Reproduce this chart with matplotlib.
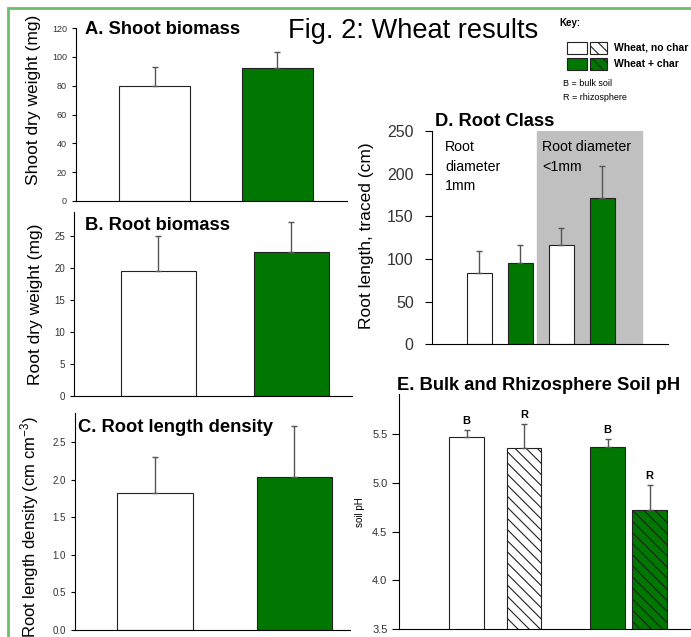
import matplotlib
matplotlib.use("Agg")
import matplotlib.pyplot as plt
from matplotlib.patches import Rectangle

plt.rcParams['font.family'] = ['Liberation Sans', 'DejaVu Sans']
plt.rcParams['mathtext.default'] = 'regular'
plt.rcParams['hatch.linewidth'] = 0.8

W, H = 691, 637
GREEN = '#007700'

# --- data ---
groups = ["Wheat, no char", "Wheat + char"]
shoot = [80, 92]
shoot_err = [13, 11.5]
root = [19.5, 22.4]
root_err = [5.5, 4.8]
rld = [1.82, 2.03]
rld_err = [0.48, 0.68]

root_class = ["1mm no char", "1mm + char", "<1mm no char", "<1mm + char"]
root_len = [83, 95, 116, 171]
root_len_err = [26, 21, 20, 38]

ph_labels = ["B", "R", "B", "R"]
ph = [5.47, 5.36, 5.37, 4.72]
ph_err = [0.07, 0.24, 0.08, 0.26]


def rect(l, t, r, b):
    return [l / W, 1 - b / H, (r - l) / W, (b - t) / H]


def style(ax, fs, ticklen=3, pad=3.5):
    ax.spines['top'].set_visible(False)
    ax.spines['right'].set_visible(False)
    ax.tick_params(axis='x', bottom=False, labelbottom=False)
    ax.tick_params(axis='y', direction='out', length=ticklen, labelsize=fs,
                   labelcolor='#333333', pad=pad)
    ax.patch.set_alpha(0)


def bars(ax, x, vals, errs, colors, width, hatches=None):
    for i in range(len(vals)):
        ax.bar(x[i], vals[i], width, color=colors[i], edgecolor='#222222',
               linewidth=0.8, hatch=None if hatches is None else hatches[i],
               zorder=2)
    ax.errorbar(x, vals, yerr=[[0] * len(vals), errs], fmt='none',
                ecolor='#555555', elinewidth=1, capsize=2.5, zorder=3)


fig = plt.figure(figsize=(W / 100, H / 100), dpi=100)

# A. shoot biomass
axA = fig.add_axes(rect(76, 28, 347, 201))
bars(axA, [0, 1], shoot, shoot_err, ['white', GREEN], 0.58)
axA.set_xlim(-0.641, 1.571)
axA.set_ylim(0, 120)
axA.set_yticks(range(0, 121, 20))
style(axA, 6.5)
axA.set_ylabel("Shoot dry weight (mg)", fontsize=12.5)
axA.yaxis.set_label_coords(-0.128, 0.584)

# B. root biomass
axB = fig.add_axes(rect(74, 212, 352, 396))
bars(axB, [0, 1], root, root_err, ['white', GREEN], 0.564)
axB.set_xlim(-0.635, 1.455)
axB.set_ylim(0, 28.7)
axB.set_yticks(range(0, 26, 5))
style(axB, 7)
axB.set_ylabel("Root dry weight (mg)", fontsize=12.5)
axB.yaxis.set_label_coords(-0.112, 0.5)

# C. root length density
axC = fig.add_axes(rect(75, 412.7, 350, 629.7))
bars(axC, [0, 1], rld, rld_err, ['white', GREEN], 0.54)
axC.set_xlim(-0.573, 1.398)
axC.set_ylim(0, 2.89)
axC.set_yticks([0, 0.5, 1.0, 1.5, 2.0, 2.5])
axC.set_yticklabels(["%.1f" % v for v in [0, 0.5, 1.0, 1.5, 2.0, 2.5]])
style(axC, 7)
axC.set_ylabel("Root length density (cm cm$^{-3}$)", fontsize=12)
axC.yaxis.set_label_coords(-0.122, 0.475)

# D. root class
axD = fig.add_axes(rect(431.7, 131, 668, 344.3))
axD.axvspan(1.402, 3.963, ymin=0, ymax=1, color='#c0c0c0', zorder=0)
bars(axD, [0, 1, 2, 3], root_len, root_len_err,
     ['white', GREEN, 'white', GREEN], 0.61)
axD.set_xlim(-1.159, 4.605)
axD.set_ylim(0, 250)
axD.set_yticks(range(0, 251, 50))
style(axD, 11.5, ticklen=5, pad=8)
axD.set_ylabel("Root length, traced (cm)", fontsize=12.5)
axD.yaxis.set_label_coords(-0.245, 0.51)
axD.text(-0.83, 239, "Root\ndiameter\n1mm", fontsize=10.2, va='top',
         linespacing=1.5)
axD.text(1.53, 239, "Root diameter\n<1mm", fontsize=10.2, va='top',
         linespacing=1.5)

# E. soil pH
axE = fig.add_axes(rect(399.3, 394.3, 695, 629.3))
xE = [0, 1, 2.449, 3.183]
bars(axE, xE, ph, ph_err, ['white', 'white', GREEN, GREEN], 0.6,
     hatches=[None, '\\\\\\', None, '\\\\\\'])
axE.set_xlim(-1.172, 3.97)
axE.set_ylim(3.5, 5.907)
axE.set_yticks([3.5, 4.0, 4.5, 5.0, 5.5])
axE.set_yticklabels(["%.1f" % v for v in [3.5, 4.0, 4.5, 5.0, 5.5]])
style(axE, 8, ticklen=5)
axE.set_ylabel("soil pH", fontsize=7, labelpad=5)
for i in range(len(ph)):
    axE.annotate(ph_labels[i], (xE[i], ph[i] + ph_err[i]), xytext=(0, 3),
                 textcoords='offset points', ha='center', va='bottom',
                 fontsize=8, fontweight='bold')

# overlay for titles, key and border
ov = fig.add_axes([0, 0, 1, 1], zorder=10)
ov.set_xlim(0, W)
ov.set_ylim(H, 0)
ov.axis('off')
ov.patch.set_alpha(0)

ov.plot([8, 8, W], [H, 8, 8], color='#6cbf6c', lw=2, solid_joinstyle='miter')

tfs = 13.2
ov.text(85, 29, "A. Shoot biomass", fontsize=tfs, fontweight='bold', va='center')
ov.text(85, 225, "B. Root biomass", fontsize=tfs, fontweight='bold', va='center')
ov.text(78, 428, "C. Root length density", fontsize=tfs, fontweight='bold',
        va='center')
ov.text(435, 121, "D. Root Class", fontsize=tfs, fontweight='bold', va='center')
ov.text(397, 385, "E. Bulk and Rhizosphere Soil pH", fontsize=tfs,
        fontweight='bold', va='center')
ov.text(288, 31, "Fig. 2: Wheat results", fontsize=19.6, va='center')

ov.text(559, 23, "Key:", fontsize=7, fontweight='bold', va='center')
key_rows = [(groups[0], 'white', 48), (groups[1], GREEN, 64)]
for name, col, yc in key_rows:
    ov.add_patch(Rectangle((567, yc - 6), 20, 12, facecolor=col,
                           edgecolor='#222222', lw=0.8))
    ov.add_patch(Rectangle((590, yc - 6), 17, 12, facecolor=col,
                           edgecolor='#222222', lw=0.8, hatch='\\\\\\'))
    ov.text(614, yc, name, fontsize=7.5, fontweight='bold', va='center')
ov.text(563, 83, "B = bulk soil", fontsize=6.5, va='center')
ov.text(563, 97, "R = rhizosphere", fontsize=6.5, va='center')

fig.savefig("out.png", dpi=100)
